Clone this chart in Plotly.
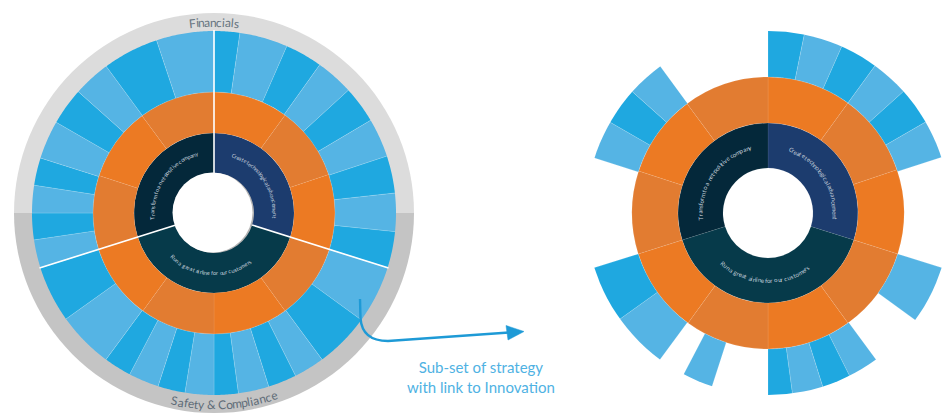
import numpy as np
import plotly.graph_objects as go

W, H = 950, 414
FONT = "Lato"

# ---------------- data ----------------
strategy_labels = ["Create technological advancement",
                   "Run a great airline for our customers",
                   "Transform to a net-positive company"]
strategy_start = [0, 107.5, 252.5]
strategy_end = [107.5, 252.5, 360]
strategy_colors = ["#1c3c6e", "#063a4a", "#04283a"]

# orange ring (objectives) segment edges, degrees clockwise from north
objective_edges = [0, 36, 71.5, 107.5, 144, 180, 216, 252.5, 288, 323.5, 360]
objective_shade = [0, 1, 0, 1, 0, 1, 0, 1, 0, 1]

# blue ring (initiatives) segment edges, full strategy
initiative_edges = [0, 8.2, 23.6, 35.5, 47.6, 59.4, 71.8, 83.7, 95.9, 107.5,
                    126, 143.6, 153.4, 162.5, 172.3, 180, 189.2, 197.9, 207.6,
                    216.4, 234.4, 252.5, 261.5, 270, 278.8, 287.6, 299.9,
                    311.8, 323.7, 341.6, 360]
initiative_shade = [0, 1] * 15

# sub-set with link to innovation
subset_start = [0, 11.5, 23.9, 36, 48.1, 60, 107.5, 143.6, 153.4, 162.5,
                172.3, 197.9, 216.4, 234.4, 287.6, 299.9, 311.8]
subset_end = [11.5, 23.9, 36, 48.1, 60, 72.2, 126, 153.4, 162.5, 172.3,
              180, 207.6, 234.4, 252.5, 299.9, 311.8, 323.7]
subset_shade = [0, 1, 0, 1, 0, 1, 1, 1, 0, 1, 0, 1, 1, 0, 1, 0, 1]

perspective_labels = ["Financials", "Safety & Compliance"]
perspective_start = [270, 90]
perspective_end = [450, 270]
perspective_colors = ["#dcdcdc", "#c4c4c4"]

BLUES = ["#1fa8e0", "#55b4e4"]
ORANGES = ["#ec7a23", "#e27c31"]

# ---------------- geometry (pixels) ----------------
L_C = (214, 213)
R_C = (768, 213)
L_RAD = dict(hole=40, dark=80, orange=121, blue=183, grey=204)
R_RAD = dict(hole=45, dark=90, orange=136, blue=204)
L_HALF = 200
R_HALF = W - R_C[0]


def fx(x):
    return x / W


def fy(y):
    return 1 - y / H


def mids(a, b):
    a = np.asarray(a, float); b = np.asarray(b, float)
    return list((a + b) / 2), list(b - a)


def ring(subplot, starts, ends, r0, r1, colors, line_col="rgba(255,255,255,0)", lw=0):
    th, wd = mids(starts, ends)
    return go.Barpolar(theta=th, width=wd, base=[r0] * len(th), r=[r1 - r0] * len(th),
                       marker=dict(color=colors, line=dict(color=line_col, width=lw)),
                       subplot=subplot, hoverinfo="skip", showlegend=False)


def sector(subplot, a0, a1, r0, r1, color, edge="rgba(255,255,255,0.25)", lw=0.6):
    n = max(int(abs(a1 - a0) * 2), 4)
    th = np.linspace(a0, a1, n)
    rr = [r1] * n + [r0] * n
    tt = list(th) + list(th[::-1])
    return go.Scatterpolar(r=rr + [r1], theta=tt + [a0], mode="lines", fill="toself",
                           fillcolor=color, line=dict(color=edge, width=lw),
                           cliponaxis=False, subplot=subplot, hoverinfo="skip", showlegend=False)


def noclip(subplot):
    return go.Scatterpolar(r=[0], theta=[0], mode="markers", marker=dict(opacity=0, size=1),
                           cliponaxis=False, subplot=subplot, hoverinfo="skip", showlegend=False)


fig = go.Figure()

# ---- left: full strategy ----
sp = "polar"
fig.add_trace(noclip(sp))
for a0, a1, col in zip(perspective_start, perspective_end, perspective_colors):
    fig.add_trace(sector(sp, a0, a1, L_RAD["blue"] - 1, L_RAD["grey"], col, edge=col, lw=0))
fig.add_trace(ring(sp, [0], [360], 0, L_RAD["hole"] + 1, ["#b3b3b3"]))
fig.add_trace(ring(sp, strategy_start, strategy_end, L_RAD["hole"], L_RAD["dark"], strategy_colors))
fig.add_trace(ring(sp, objective_edges[:-1], objective_edges[1:], L_RAD["dark"], L_RAD["orange"],
                   [ORANGES[s] for s in objective_shade], "rgba(255,255,255,0.12)", 0.6))
fig.add_trace(ring(sp, initiative_edges[:-1], initiative_edges[1:], L_RAD["orange"], L_RAD["blue"],
                   [BLUES[s] for s in initiative_shade], "rgba(255,255,255,0.25)", 0.6))
for b in strategy_start:
    fig.add_trace(go.Scatterpolar(r=[L_RAD["hole"], L_RAD["blue"]], theta=[b, b], mode="lines",
                                  line=dict(color="white", width=1.6), subplot=sp,
                                  hoverinfo="skip", showlegend=False, cliponaxis=False))

# ---- right: sub-set with link to innovation ----
sp = "polar2"
fig.add_trace(noclip(sp))
fig.add_trace(ring(sp, strategy_start, strategy_end, R_RAD["hole"], R_RAD["dark"], strategy_colors,
                   "rgba(255,255,255,0.12)", 0.6))
fig.add_trace(ring(sp, objective_edges[:-1], objective_edges[1:], R_RAD["dark"], R_RAD["orange"],
                   [ORANGES[s] for s in objective_shade], "rgba(255,255,255,0.15)", 0.6))
for a0, a1, s in zip(subset_start, subset_end, subset_shade):
    fig.add_trace(sector(sp, a0, a1, R_RAD["orange"], R_RAD["blue"], BLUES[s]))


def polar_layout(c, half):
    return dict(domain=dict(x=[fx(c[0] - half), fx(c[0] + half)],
                            y=[fy(c[1] + half), fy(c[1] - half)]),
                bgcolor="rgba(0,0,0,0)", bargap=0, barmode="overlay",
                radialaxis=dict(range=[0, half], visible=False, showgrid=False),
                angularaxis=dict(rotation=90, direction="clockwise", visible=False, showgrid=False))


# ---------------- curved text ----------------
def cw(c):
    if c in "il|j'.,": return 0.24
    if c in "tfr": return 0.34
    if c == " ": return 0.27
    if c == "-": return 0.33
    if c in "mw": return 0.78
    if c == "&": return 0.66
    if c.isupper(): return 0.62
    return 0.5


def arc_text(text, c, r, a0, a1, size, color, inward=False):
    ws = [cw(ch) for ch in text]
    tot = sum(ws)
    cum = 0.0
    out = []
    for ch, w in zip(text, ws):
        a = a0 + (a1 - a0) * (cum + w / 2) / tot
        cum += w
        if ch == " ":
            continue
        rad = np.radians(a)
        x = c[0] + r * np.sin(rad)
        y = c[1] - r * np.cos(rad)
        rot = a - 180 if inward else a
        rot = ((rot + 180) % 360) - 180
        out.append(dict(x=fx(x), y=fy(y), xref="paper", yref="paper", text=ch,
                        showarrow=False, textangle=rot, xanchor="center", yanchor="middle",
                        font=dict(size=size, color=color, family=FONT)))
    return out


anns = []
RING_TXT = "#c3cfdb"
anns += arc_text(strategy_labels[0], L_C, 61, 17, 95, 5.6, RING_TXT)
anns += arc_text(strategy_labels[2], L_C, 62, 264, 345, 5.6, RING_TXT)
anns += arc_text(strategy_labels[1], L_C, 60, 225, 142, 5.6, RING_TXT, inward=True)
anns += arc_text(strategy_labels[0], R_C, 67, 18, 96, 6.1, RING_TXT)
anns += arc_text(strategy_labels[2], R_C, 68, 264, 346, 6.1, RING_TXT)
anns += arc_text(strategy_labels[1], R_C, 67.5, 223.5, 142.5, 6.1, RING_TXT, inward=True)
anns += arc_text(perspective_labels[0], L_C, 191, -7.6, 7.6, 12, "#66747f")
anns += arc_text(perspective_labels[1], L_C, 192, 193, 161, 12, "#5f6c78", inward=True)

anns.append(dict(x=fx(481), y=fy(377), xref="paper", yref="paper",
                 text="Sub-set of strategy<br>with link to Innovation", showarrow=False,
                 xanchor="center", yanchor="middle", align="center",
                 font=dict(size=15, color="#4fb2e3", family=FONT)))


# ---------------- decorations ----------------
def P(x, y):
    return f"{fx(x):.5f},{fy(y):.5f}"


shapes = [
    dict(type="circle", xref="paper", yref="paper", layer="above",
         x0=fx(212.5 - 40), x1=fx(212.5 + 40), y0=fy(212.5 + 40), y1=fy(212.5 - 40),
         fillcolor="white", line=dict(width=0)),
    dict(type="path", xref="paper", yref="paper", layer="above",
         path=f"M {P(360, 299)} L {P(360.5, 318)} Q {P(362, 341)} {P(388, 341)} L {P(509, 332.5)}",
         line=dict(color="#1e9ad6", width=2.4)),
    dict(type="path", xref="paper", yref="paper", layer="above",
         path=f"M {P(506, 325.5)} L {P(524, 331.5)} L {P(508, 340)} Z",
         fillcolor="#1e9ad6", line=dict(color="#1e9ad6", width=0.5)),
]

fig.update_layout(
    width=W, height=H, margin=dict(l=0, r=0, t=0, b=0),
    paper_bgcolor="white", plot_bgcolor="white",
    polar=polar_layout(L_C, L_HALF),
    polar2=polar_layout(R_C, R_HALF),
    annotations=anns, shapes=shapes, showlegend=False,
    font=dict(family=FONT),
)

# remove the browser's default page margin so the 950x414 figure fills the window
fig.write_html("out.html", config={"displayModeBar": False},
               post_script="document.body.style.margin='0';document.body.style.overflow='hidden';")
